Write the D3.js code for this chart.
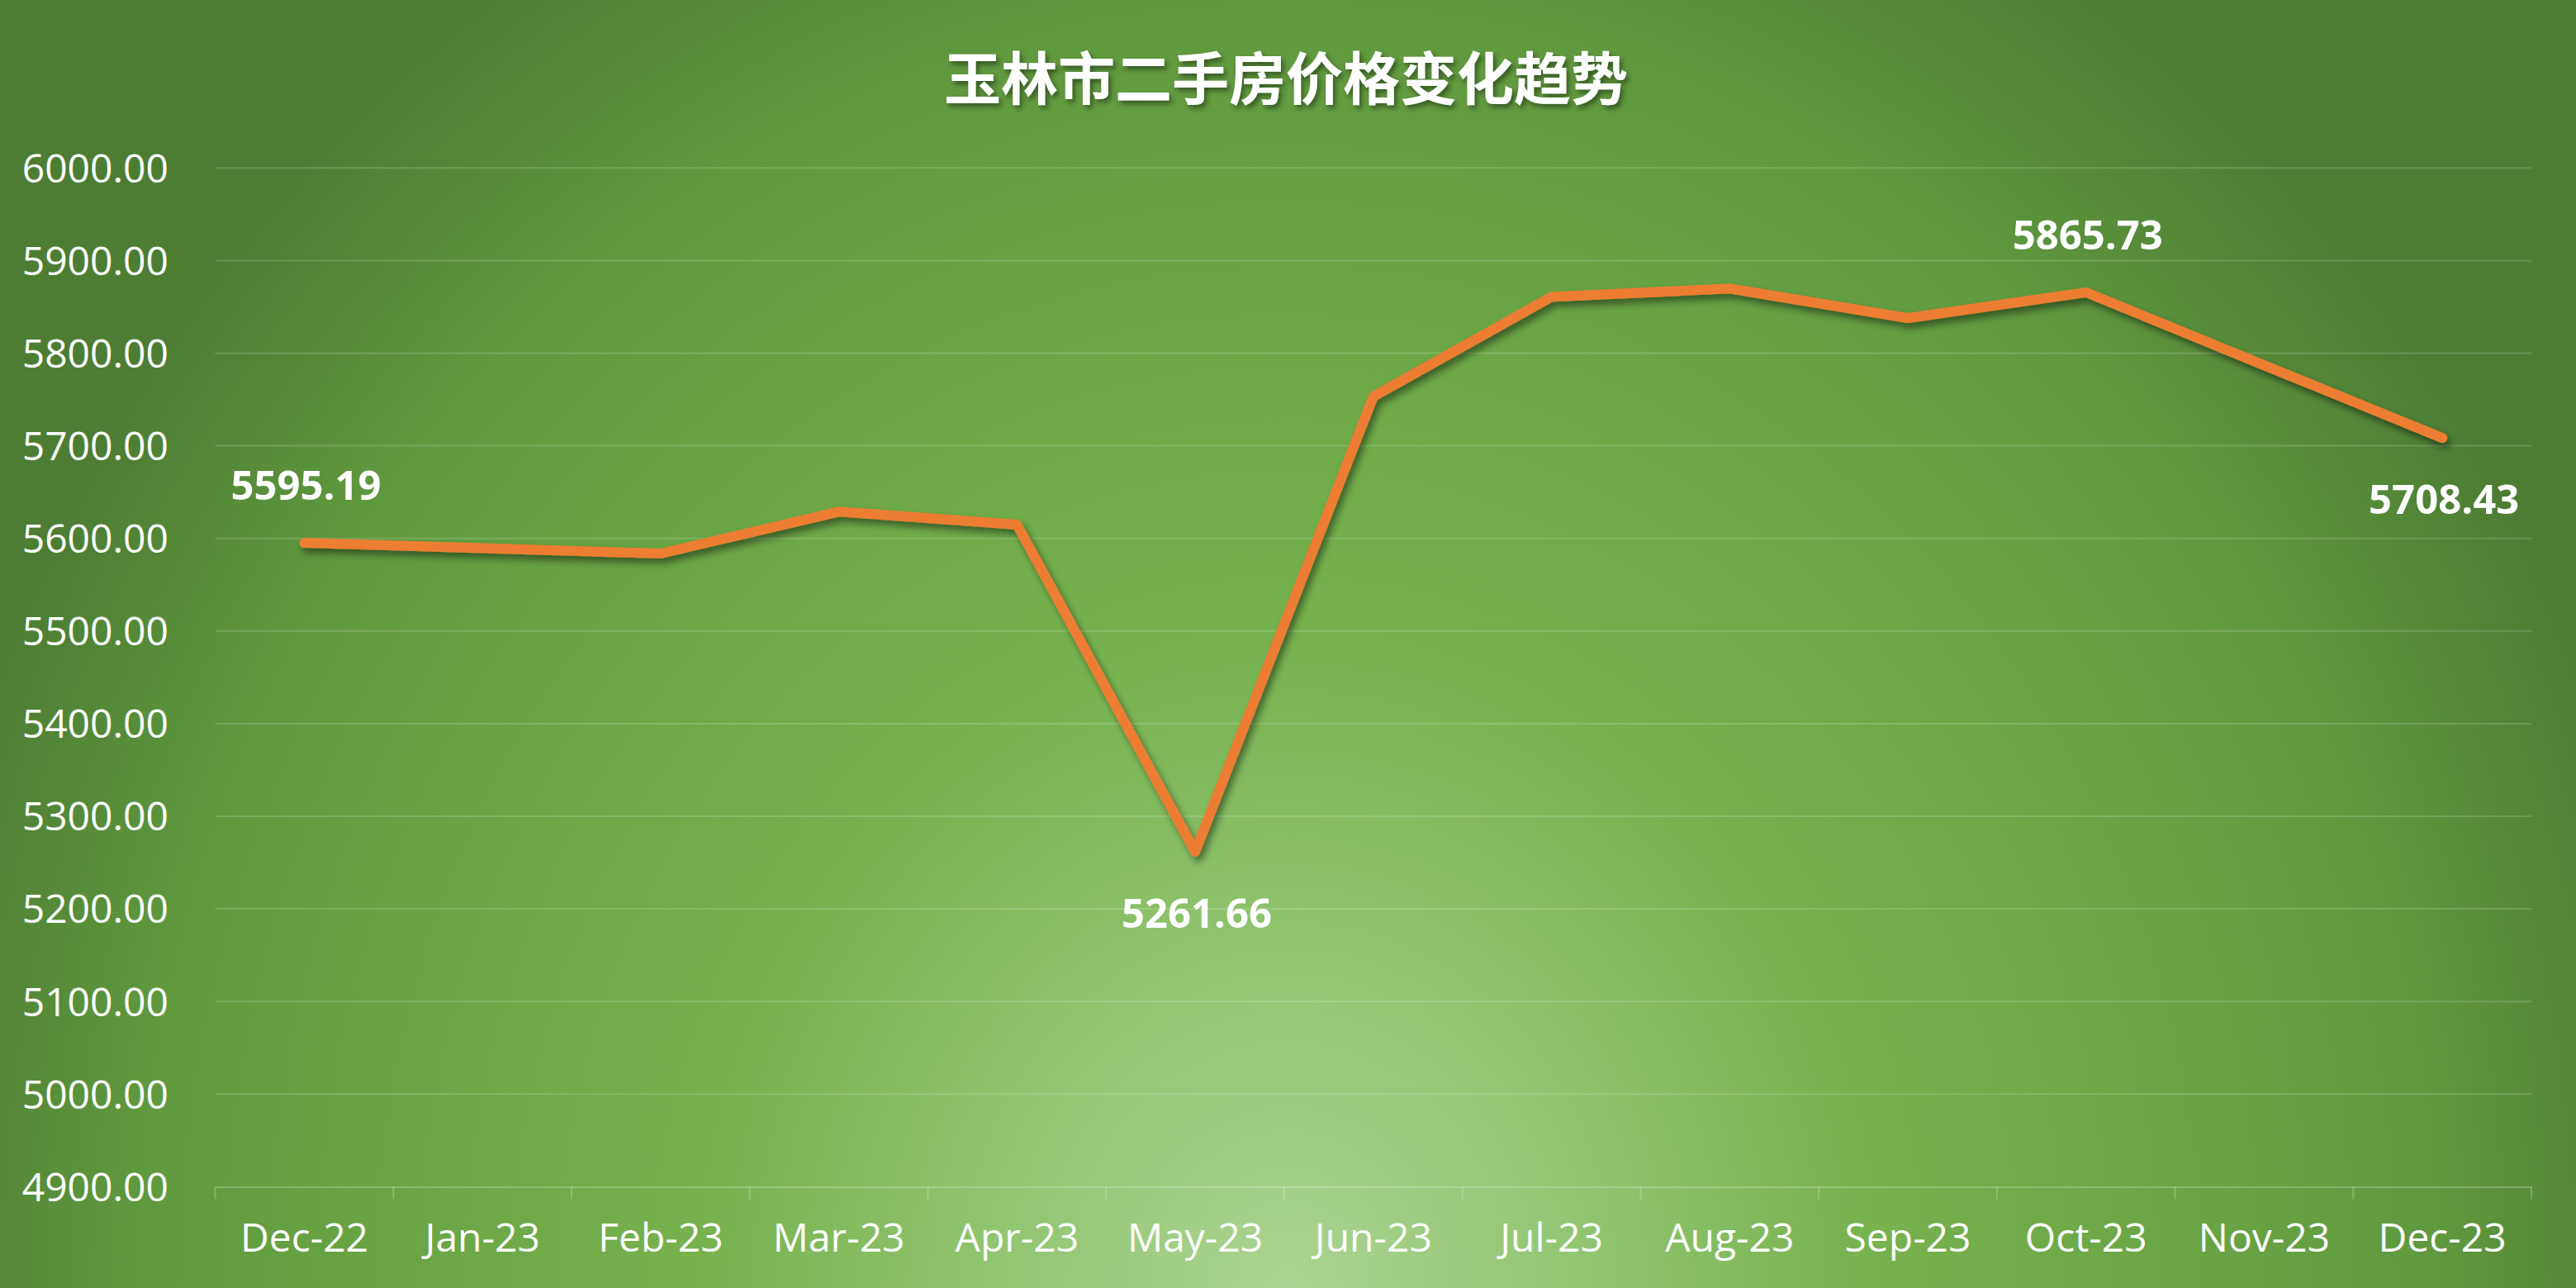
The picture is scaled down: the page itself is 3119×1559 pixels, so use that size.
<!DOCTYPE html>
<html>
<head>
<meta charset="utf-8">
<script src="https://cdn.jsdelivr.net/npm/d3@7/dist/d3.min.js"></script>
<style>
  html, body { margin: 0; padding: 0; background: #4a7c30; overflow: hidden; }
  svg { display: block; }
</style>
</head>
<body>
<svg id="chart" width="3119" height="1559"></svg>
<script>
// ---- data ----
const title = "玉林市二手房价格变化趋势";
const categories = ["Dec-22","Jan-23","Feb-23","Mar-23","Apr-23","May-23","Jun-23","Jul-23","Aug-23","Sep-23","Oct-23","Nov-23","Dec-23"];
const prices = [5595.19, 5589.4, 5583.7, 5628.9, 5614.9, 5261.66, 5753.2, 5860.8, 5869.8, 5837.9, 5865.73, 5787.0, 5708.43];
const yTicks = [4900, 5000, 5100, 5200, 5300, 5400, 5500, 5600, 5700, 5800, 5900, 6000];
const labeledIdx = [0, 5, 10, 12];
const labeledSide = ["above", "below", "above", "below"];

// ---- layout ----
const W = 3119, H = 1559;
const plot = { left: 260.6, right: 3065, top: 203.3, bottom: 1436.4 };
const latin = "'Open Sans', 'Noto Sans', 'DejaVu Sans', sans-serif";
const cjk = "'Noto Sans CJK SC', 'Noto Sans', sans-serif";

const svg = d3.select("#chart");
const defs = svg.append("defs");

// background radial gradient (light at bottom centre)
const grad = defs.append("radialGradient")
  .attr("id", "bg")
  .attr("gradientUnits", "userSpaceOnUse")
  .attr("cx", 1560).attr("cy", 1559).attr("r", 1900)
  .attr("fx", 1560).attr("fy", 1559)
  .attr("gradientTransform", "translate(1560,1559) scale(0.895,1) translate(-1560,-1559)");
[[0, "#acd492"], [0.2, "#92c672"], [0.42, "#76b24e"], [0.62, "#6aa645"], [0.82, "#5f993e"], [1, "#4c7d33"]]
  .forEach(([o, c]) => grad.append("stop").attr("offset", o).attr("stop-color", c));

const lineShadow = defs.append("filter").attr("id", "lshadow")
  .attr("x", "-5%").attr("y", "-10%").attr("width", "110%").attr("height", "120%");
lineShadow.append("feDropShadow").attr("dx", 4).attr("dy", 6).attr("stdDeviation", 4)
  .attr("flood-color", "#000").attr("flood-opacity", 0.45);

const textShadow = defs.append("filter").attr("id", "tshadow")
  .attr("x", "-10%").attr("y", "-30%").attr("width", "120%").attr("height", "160%");
textShadow.append("feDropShadow").attr("dx", 3).attr("dy", 4).attr("stdDeviation", 3)
  .attr("flood-color", "#000").attr("flood-opacity", 0.45);

svg.append("rect").attr("width", W).attr("height", H).attr("fill", "url(#bg)");

// ---- scales ----
const x = d3.scaleBand().domain(categories).range([plot.left, plot.right]).padding(0);
const y = d3.scaleLinear().domain([4900, 6000]).range([plot.bottom, plot.top]);
const cx = c => x(c) + x.bandwidth() / 2;

// gridlines
svg.append("g").selectAll("line")
  .data(yTicks.filter(t => t !== 4900))
  .join("line")
  .attr("x1", plot.left).attr("x2", plot.right)
  .attr("y1", d => y(d)).attr("y2", d => y(d))
  .attr("stroke", "#ffffff").attr("stroke-opacity", 0.16).attr("stroke-width", 2);

// y axis labels
const yAxis = d3.axisLeft(y).tickValues(yTicks).tickFormat(d3.format(".2f")).tickSize(0).tickPadding(0);
const gy = svg.append("g").attr("transform", `translate(${204},0)`).call(yAxis);
gy.select(".domain").remove();
gy.selectAll("text")
  .attr("fill", "#ffffff").attr("font-family", latin).attr("font-size", 48)
  .attr("dy", "0.35em");

// x axis
const xAxis = d3.axisBottom(x).tickSize(0).tickPadding(0);
const gx = svg.append("g").attr("transform", `translate(0,${plot.bottom})`).call(xAxis);
gx.select(".domain").attr("stroke", "#ffffff").attr("stroke-opacity", 0.22).attr("stroke-width", 2);
gx.selectAll("text")
  .attr("fill", "#ffffff").attr("font-family", latin).attr("font-size", 48)
  .attr("y", 62).attr("dy", "0.35em");
// category boundary ticks
const bounds = categories.map(c => x(c)).concat([plot.right]);
gx.append("g").selectAll("line").data(bounds).join("line")
  .attr("x1", d => d).attr("x2", d => d).attr("y1", 0).attr("y2", 15)
  .attr("stroke", "#ffffff").attr("stroke-opacity", 0.22).attr("stroke-width", 2);

// line
const line = d3.line().x((d, i) => cx(categories[i])).y(d => y(d));
svg.append("path")
  .datum(prices)
  .attr("d", line)
  .attr("fill", "none")
  .attr("stroke", "#ED7D31")
  .attr("stroke-width", 12)
  .attr("stroke-linejoin", "round")
  .attr("stroke-linecap", "round")
  .attr("filter", "url(#lshadow)");

// data labels
svg.append("g").selectAll("text")
  .data(labeledIdx)
  .join("text")
  .attr("x", i => cx(categories[i]) + 2)
  .attr("y", (i, k) => y(prices[i]) + (labeledSide[k] === "above" ? -69 : 75))
  .attr("dy", "0.35em")
  .attr("text-anchor", "middle")
  .attr("fill", "#ffffff")
  .attr("font-family", latin)
  .attr("font-weight", 700)
  .attr("font-size", 49)
  .text(i => d3.format(".2f")(prices[i]));

// title
svg.append("text")
  .attr("x", 1557).attr("y", 96)
  .attr("dy", "0.36em")
  .attr("text-anchor", "middle")
  .attr("fill", "#ffffff")
  .attr("font-family", cjk)
  .attr("font-weight", 700)
  .attr("font-size", 69)
  .attr("filter", "url(#tshadow)")
  .text(title);
</script>
</body>
</html>
